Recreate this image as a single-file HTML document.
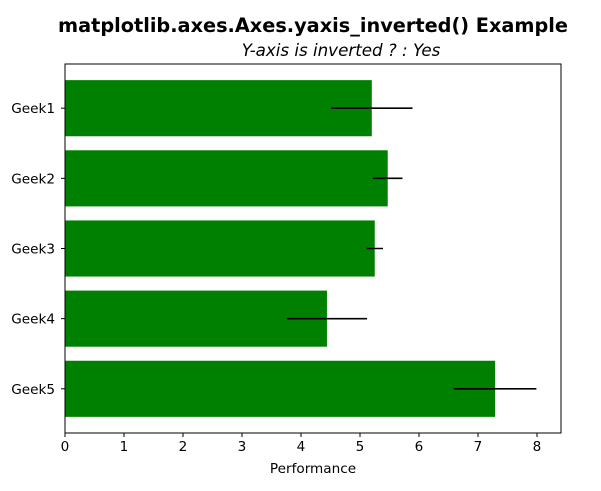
<!DOCTYPE html>
<html><head><meta charset="utf-8"><style>
body{margin:0;background:#fff;}
svg text{font-family:"DejaVu Sans","Liberation Sans",sans-serif;}
</style></head><body>
<svg id="chart" width="601" height="486" xmlns="http://www.w3.org/2000/svg">
<rect width="601" height="486" fill="#fff"/>
<text x="313" y="32" text-anchor="middle" font-size="19.3" font-weight="bold">matplotlib.axes.Axes.yaxis_inverted() Example</text>
<text x="341" y="56" text-anchor="middle" font-size="16.7" font-style="italic">Y-axis is inverted ? : Yes</text>
<g id="plot"></g>
<text x="313" y="473" text-anchor="middle" font-size="13.6">Performance</text>
</svg>
<script>
const categories=["Geek1","Geek2","Geek3","Geek4","Geek5"];
const values=[5.2,5.47,5.25,4.44,7.29];
const errors=[0.69,0.25,0.14,0.68,0.7];
const xTicks=[0,1,2,3,4,5,6,7,8];

const L=65,R=561,T=64,B=433,xMax=8.407;
const ns="http://www.w3.org/2000/svg";
const g=document.getElementById('plot');
const x=v=>L+(v/xMax)*(R-L);
const yMin=-0.63,yMax=4.63;
const y=i=>T+(i-yMin)/(yMax-yMin)*(B-T);
const bh=0.8*(B-T)/(yMax-yMin);
function mk(t,a){const e=document.createElementNS(ns,t);for(const k in a)e.setAttribute(k,a[k]);g.appendChild(e);return e;}
categories.forEach((c,i)=>{
  const b=mk('rect',{x:x(0),y:y(i)-bh/2,width:x(values[i])-x(0),height:bh,fill:'#008000'});
  
  
  const e=mk('line',{x1:x(values[i]-errors[i]),x2:x(values[i]+errors[i]),y1:y(i),y2:y(i),stroke:'#000','stroke-width':1.6});
  
  
  mk('line',{x1:L-4,x2:L,y1:y(i),y2:y(i),stroke:'#000'});
  const t=mk('text',{x:L-10,y:y(i)+5,'text-anchor':'end','font-size':13.6});
  t.textContent=c;
  
  
});
xTicks.forEach(v=>{
  mk('line',{x1:x(v),x2:x(v),y1:B,y2:B+4,stroke:'#000'});
  const t=mk('text',{x:x(v),y:B+18,'text-anchor':'middle','font-size':13.6});
  t.textContent=v;
  
  
});
const f=mk('rect',{x:L,y:T,width:R-L,height:B-T,fill:'none',stroke:'#000','stroke-width':1});


</script>
</body></html>
